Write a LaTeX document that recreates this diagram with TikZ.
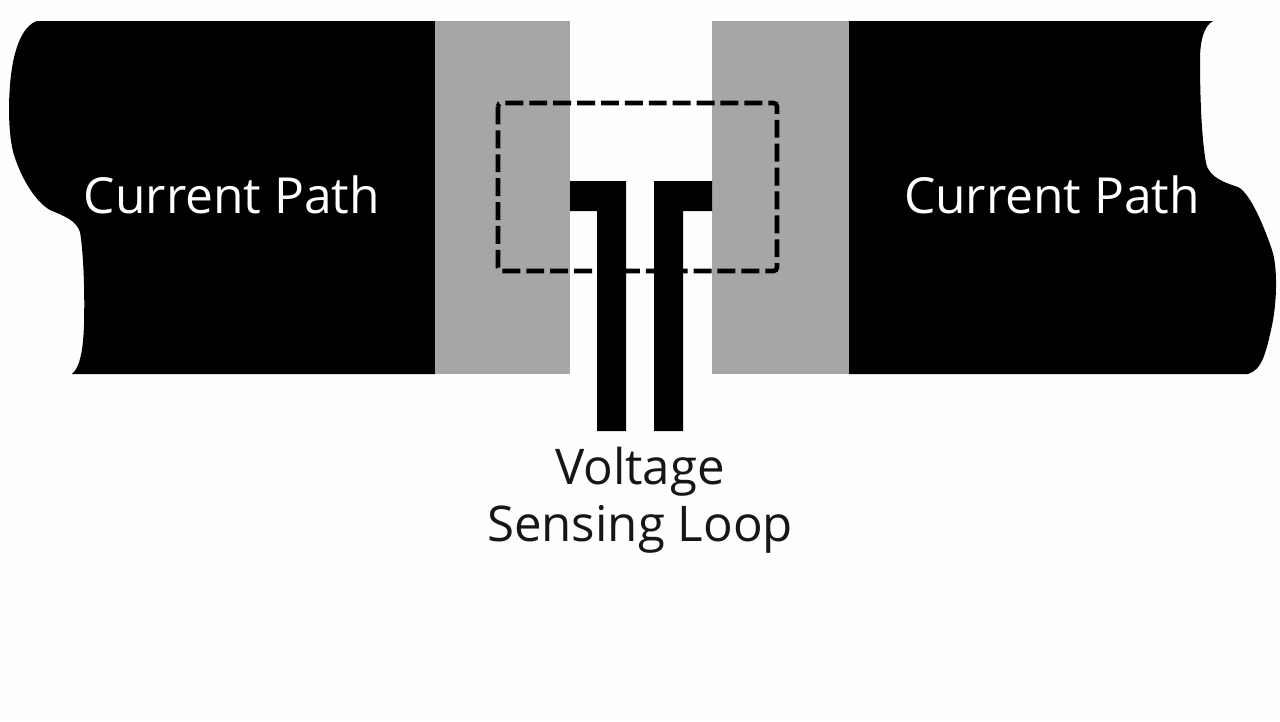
\documentclass[tikz,border=0pt]{standalone}
\usepackage{fontspec}
\setmainfont{Open Sans}
\usepackage{xcolor}
\usetikzlibrary{positioning}
\definecolor{pad}{HTML}{A7A5A6}
\definecolor{paper}{HTML}{FEFEFE}
\definecolor{ink}{HTML}{161616}

\begin{document}
\begin{tikzpicture}[
  x=0.02cm, y=-0.02cm,
  conductor/.style={fill=black, draw=none},
  padbox/.style={fill=pad, draw=none},
  sense/.style={fill=black, draw=none},
  senseframe/.style={draw=black, line width=2.6pt, dash pattern=on 10.2pt off 3.4pt, rounded corners=2pt},
  pathlabel/.style={font=\fontsize{28.3}{34}\selectfont, text=white, inner sep=0pt},
  looplabel/.style={font=\fontsize{28}{32.4}\selectfont, text=ink, inner sep=0pt, align=center},
]

% ── Page ──
\fill[paper] (0,0) rectangle (1280,721);
\useasboundingbox (0,0) rectangle (1280,721);

% ── Current path, left end ──
\path[conductor] (37,21) -- (435,21) -- (435,374) -- (72,374)
  .. controls (79,368) and (83,354) .. (84,325)
  .. controls (85,285) and (83,250) .. (80,232)
  .. controls (76,220) and (64,216) .. (50,210)
  .. controls (36,202) and (22,180) .. (14,155)
  .. controls (8,135) and (8,100) .. (11,75)
  .. controls (14,50) and (22,26) .. (37,21) -- cycle;

% ── Current path, right end ──
\path[conductor] (849,21) -- (1213,21)
  .. controls (1204,26) and (1200,40) .. (1200,60)
  .. controls (1200,90) and (1201,135) .. (1206,163)
  .. controls (1209,178) and (1226,183) .. (1238,187)
  .. controls (1250,193) and (1264,226) .. (1272,250)
  .. controls (1278,268) and (1277,305) .. (1271,330)
  .. controls (1266,352) and (1262,370) .. (1248,374)
  -- (849,374) -- cycle;

% ── Grey pads ──
\fill[padbox] (435,21) rectangle (570,374);
\fill[padbox] (712,21) rectangle (849,374);

% ── Voltage sensing loop ──
\path[sense] (570,181) -- (626,181) -- (626,431) -- (597,431) -- (597,211) -- (570,211) -- cycle;
\path[sense] (712,181) -- (654,181) -- (654,431) -- (683,431) -- (683,211) -- (712,211) -- cycle;

% ── Dashed frame ──
\draw[senseframe] (498,103) rectangle (777,271);

% ── Labels ──
\node[pathlabel] (leftpath)  at (232,195)  {Current Path};
\node[pathlabel] (rightpath) at (1052,195) {Current Path};
\node[looplabel] (loop)      at (640,500)  {Voltage\\Sensing Loop};

\end{tikzpicture}
\end{document}
